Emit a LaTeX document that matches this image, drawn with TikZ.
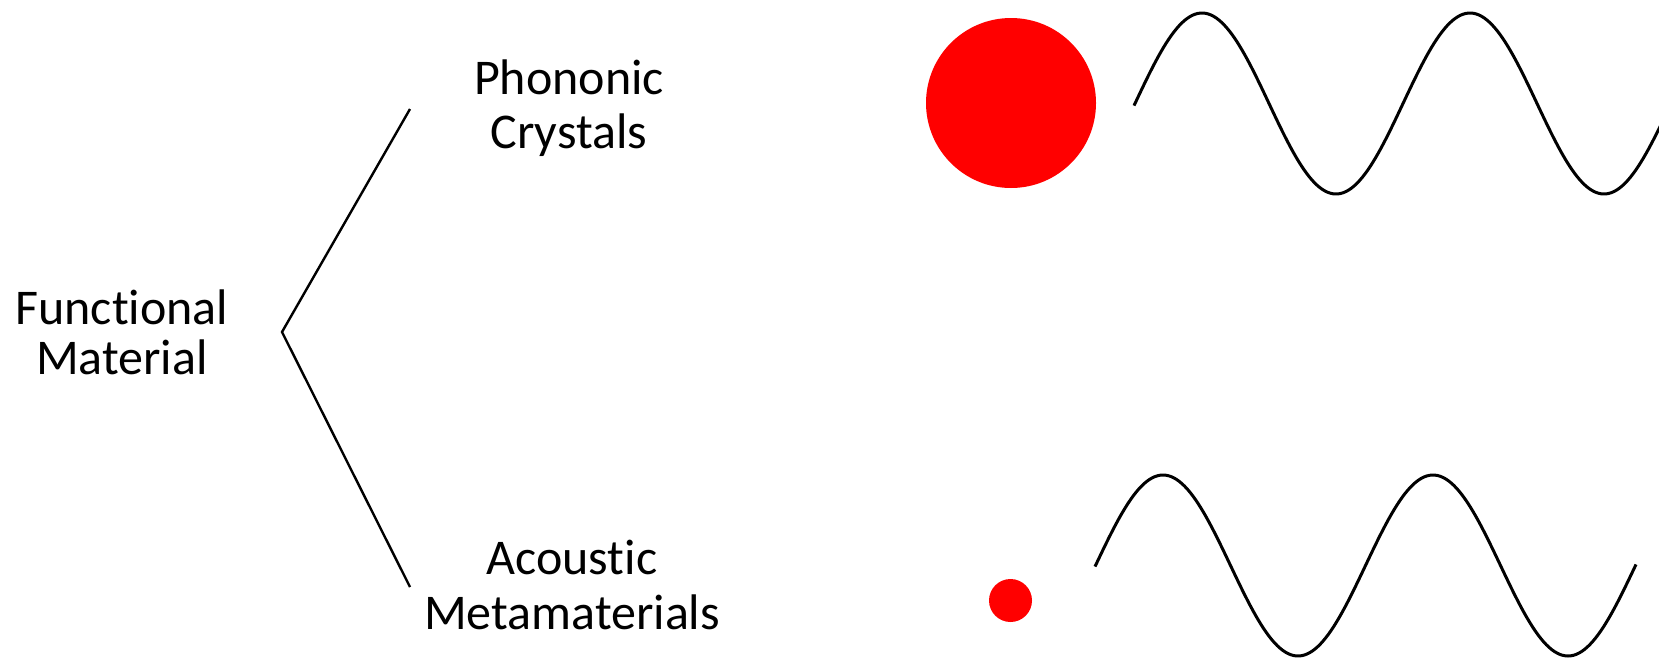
\documentclass[tikz,border=0pt]{standalone}
\usepackage{fontspec}
\setmainfont{Carlito}[Ligatures={NoCommon,NoRare}]
\begin{document}
\begin{tikzpicture}[x=1pt, y=-1pt,
    label/.style={align=center, inner sep=0pt, font=\fontsize{50}{50}\selectfont},
    dot/.style={circle, fill=red, inner sep=0pt},
    wave/.style={line width=3pt, line join=round}]
    \useasboundingbox (0,0) rectangle (1659,659);

    % Labels
    \node[label] (func) at (122,332) {Functional\\Material};
    \node[label, font=\fontsize{50}{54}\selectfont] (phc) at (569,108) {Phononic\\Crystals};
    \node[label, font=\fontsize{50}{55}\selectfont] (acm) at (572,585) {Acoustic\\Metamaterials};

    % Branch lines
    \coordinate (fork) at (282,332);
    \coordinate (phctip) at (410,109);
    \coordinate (acmtip) at (410,587);
    \draw[line width=2.4pt] (phctip) -- (fork) -- (acmtip);

    % Scatterers
    \node[dot, minimum size=170pt] (bigdot) at (1011,103) {};
    \node[dot, minimum size=43pt] (smalldot) at (1010.5,600.5) {};

    % Waves
    \begin{scope}
        \clip (0,0) rectangle (1659,659);
        \draw[wave] plot[domain=1134:1662, samples=200]
            (\x, {103.5 - 90.5*sin((\x-1135)/268*360)});
        \draw[wave] plot[domain=1095:1636, samples=200]
            (\x, {565.5 - 90.5*sin((\x-1095.5)/270*360)});
    \end{scope}
\end{tikzpicture}
\end{document}
